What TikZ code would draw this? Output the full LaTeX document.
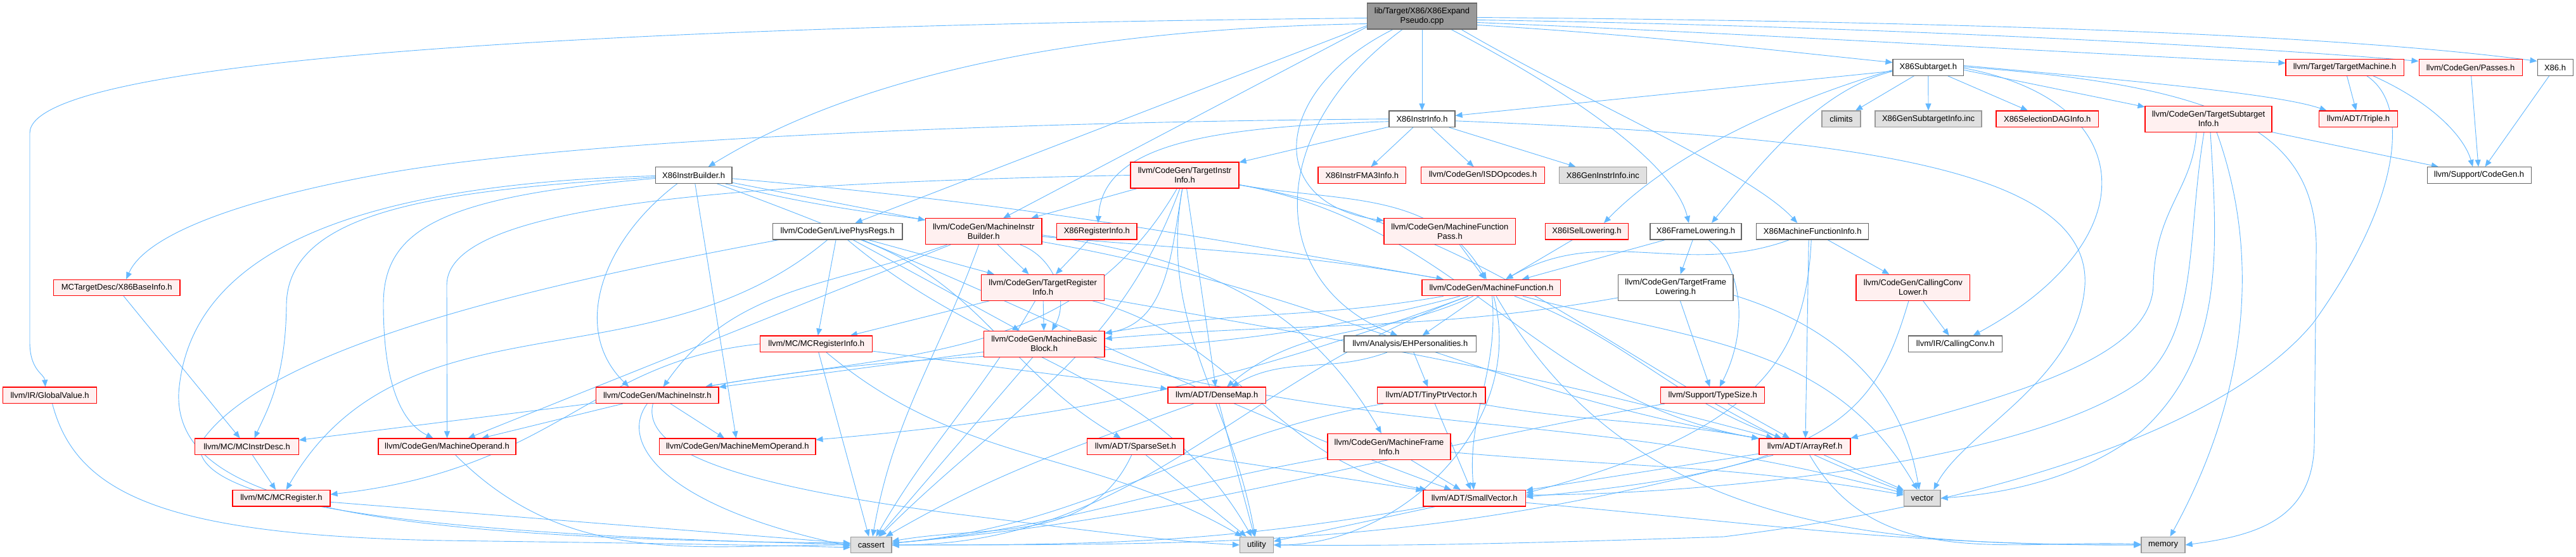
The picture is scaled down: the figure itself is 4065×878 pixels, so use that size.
\documentclass[tikz,border=0pt]{standalone}
\usepackage{fontspec}
\setmainfont{Liberation Sans}
\usetikzlibrary{arrows.meta,calc}
\definecolor{edgec}{HTML}{63B8FF}
\definecolor{rfill}{HTML}{FFF0F0}
\definecolor{gfill}{HTML}{E0E0E0}
\definecolor{gborder}{HTML}{999999}
\definecolor{wborder}{HTML}{666666}
\definecolor{rootfill}{HTML}{999999}
\pgfdeclarelayer{bgl}
\pgfdeclarelayer{edgelayer}
\pgfsetlayers{bgl,edgelayer,main}
% curved connector: start, out angle, in angle, end, looseness
\newcommand\curv[5]{%
  \draw[conn] let \p1=($(#4)-(#1)$), \n1={0.3915*#5*100*veclen(\x1/100,\y1/100)} in
    (#1) .. controls ($(#1)+(#2:\n1)$) and ($(#4)+(#3:\n1)$) .. (#4);}
\begin{document}
\begin{tikzpicture}[x=1pt,y=1pt,
  nbase/.style={draw, rectangle, inner sep=0pt, align=center, text=black,
    font=\fontsize{13}{15}\selectfont, line width=1.1pt, minimum height=25.6pt},
  rnode/.style={nbase, draw=red, fill=rfill},
  wnode/.style={nbase, draw=wborder, fill=white},
  gnode/.style={nbase, draw=gborder, fill=gfill},
  rootnode/.style={nbase, draw=wborder, fill=rootfill},
  two/.style={minimum height=41pt},
  wd/.style={minimum width=#1pt},
  conn/.style={draw=edgec, line width=0.9pt, -{Triangle[length=11pt,width=9pt]}},
]
\begin{pgfonlayer}{bgl}
\fill[white] (0,0) rectangle (4065,-878);
\end{pgfonlayer}
\useasboundingbox (0,0) rectangle (4065,-878);

% row 0
\node[rootnode,two,wd=173] (root) at (2244,-25.5) {lib/Target/X86/X86Expand\\Pseudo.cpp};
% row 1
\node[wnode,wd=111.6] (sub) at (3042.8,-106.5) {X86Subtarget.h};
\node[rnode,wd=186] (tm) at (3700,-106.5) {llvm/Target/TargetMachine.h};
\node[rnode,wd=163] (passes) at (3898.5,-106.5) {llvm/CodeGen/Passes.h};
\node[wnode,wd=56] (x86h) at (4032,-106.5) {X86.h};
% row 2
\node[wnode,wd=104] (instrinfo) at (2244,-187.8) {X86InstrInfo.h};
\node[gnode,wd=61] (climits) at (2905.5,-187.8) {climits};
\node[gnode,wd=168] (gensub) at (3043,-187.8) {X86GenSubtargetInfo.inc};
\node[rnode,wd=161.5] (seldag) at (3230.7,-187.8) {X86SelectionDAGInfo.h};
\node[rnode,two,wd=200] (tsi) at (3485,-187.8) {llvm/CodeGen/TargetSubtarget\\Info.h};
\node[rnode,wd=124] (triple) at (3721.5,-187.8) {llvm/ADT/Triple.h};
% row 3
\node[wnode,wd=120.5] (ibuilder) at (1094.7,-276.5) {X86InstrBuilder.h};
\node[rnode,two,wd=171] (tii) at (1869.5,-276.5) {llvm/CodeGen/TargetInstr\\Info.h};
\node[rnode,wd=138.6] (fma3) at (2149.3,-276.5) {X86InstrFMA3Info.h};
\node[rnode,wd=194.6] (isd) at (2340,-276.5) {llvm/CodeGen/ISDOpcodes.h};
\node[gnode,wd=137.5] (geninstr) at (2529.3,-276.5) {X86GenInstrInfo.inc};
\node[wnode,wd=164] (cgh) at (3912,-276.5) {llvm/Support/CodeGen.h};
% row 4
\node[wnode,wd=204.7] (lpr) at (1321.6,-365.2) {llvm/CodeGen/LivePhysRegs.h};
\node[rnode,two,wd=183.6] (mib) at (1552.2,-365.2) {llvm/CodeGen/MachineInstr\\Builder.h};
\node[rnode,wd=126.4] (x86ri) at (1730.8,-365.2) {X86RegisterInfo.h};
\node[rnode,two,wd=207.8] (mfp) at (2287.9,-365.2) {llvm/CodeGen/MachineFunction\\Pass.h};
\node[rnode,wd=130.8] (isel) at (2504,-365.2) {X86ISelLowering.h};
\node[wnode,wd=144] (frame) at (2676,-365.2) {X86FrameLowering.h};
\node[wnode,wd=176.8] (mfi) at (2860.2,-365.2) {X86MachineFunctionInfo.h};
% row 5
\node[rnode,wd=199.6] (baseinfo) at (184.2,-453.9) {MCTargetDesc/X86BaseInfo.h};
\node[rnode,two,wd=193.8] (tri) at (1645.7,-453.8) {llvm/CodeGen/TargetRegister\\Info.h};
\node[rnode,wd=218.8] (mf) at (2353.4,-454.1) {llvm/CodeGen/MachineFunction.h};
\node[wnode,two,wd=181.6] (tfl) at (2644.2,-453.8) {llvm/CodeGen/TargetFrame\\Lowering.h};
\node[rnode,two,wd=179.8] (ccl) at (3018.9,-453.8) {llvm/CodeGen/CallingConv\\Lower.h};
% row 6
\node[rnode,wd=177.3] (mcri) at (1288.2,-542.8) {llvm/MC/MCRegisterInfo.h};
\node[rnode,two,wd=190.6] (mbb) at (1647.7,-542.8) {llvm/CodeGen/MachineBasic\\Block.h};
\node[wnode,wd=208.7] (eh) at (2225.3,-542.8) {llvm/Analysis/EHPersonalities.h};
\node[wnode,wd=148.2] (cc) at (3085.6,-542.8) {llvm/IR/CallingConv.h};
% row 7
\node[rnode,wd=148.2] (gv) at (78.6,-623.8) {llvm/IR/GlobalValue.h};
\node[rnode,wd=193.3] (mi) at (1037.3,-623.8) {llvm/CodeGen/MachineInstr.h};
\node[rnode,wd=154.5] (dm) at (1920.2,-623.8) {llvm/ADT/DenseMap.h};
\node[rnode,wd=170.5] (tpv) at (2258.7,-623.8) {llvm/ADT/TinyPtrVector.h};
\node[rnode,wd=164] (ts) at (2702.7,-623.8) {llvm/Support/TypeSize.h};
% row 8
\node[rnode,wd=163.8] (mcid) at (389.5,-704.8) {llvm/MC/MCInstrDesc.h};
\node[rnode,wd=217] (mo) at (705.5,-704.8) {llvm/CodeGen/MachineOperand.h};
\node[rnode,wd=246.3] (mmo) at (1163.8,-704.8) {llvm/CodeGen/MachineMemOperand.h};
\node[rnode,wd=152.2] (ss) at (1791.9,-704.8) {llvm/ADT/SparseSet.h};
\node[rnode,two,wd=194] (mfinfo) at (2192,-705) {llvm/CodeGen/MachineFrame\\Info.h};
\node[rnode,wd=144] (ar) at (2848,-704.8) {llvm/ADT/ArrayRef.h};
% row 9
\node[rnode,wd=154] (mcreg) at (444,-786.2) {llvm/MC/MCRegister.h};
\node[rnode,wd=161.4] (sv) at (2326.7,-786.2) {llvm/ADT/SmallVector.h};
\node[gnode,wd=57.2] (vector) at (3033.4,-786.2) {vector};
% row 10
\node[gnode,wd=64.5] (cassert) at (1374.7,-860) {cassert};
\node[gnode,wd=53] (utility) at (1983,-860) {utility};
\node[gnode,wd=69] (memory) at (3413.5,-860) {memory};

\begin{pgfonlayer}{edgelayer}
% ---------- root
\draw[conn] ($(root.west)+(0,-3)$) .. controls (1000,-40) and (47,-90) .. (47,-210) -- (47,-540) .. controls (47,-585) and (70,-590) .. ($(gv.north)+(-7,0)$);
\draw[conn] ($(root.west)+(0,-12)$) .. controls (1700,-45) and (1350,-120) .. ($(ibuilder.north)+(23,0)$);
\draw[conn] ($(root.west)+(0,-15)$) -- ($(lpr.north)+(28,0)$);
\draw[conn] ($(root.west)+(0,-17)$) -- ($(mib.north)+(31,0)$);
\draw[conn] (root) -- (instrinfo);
\draw[conn] ($(root.south)+(-46,0)$) .. controls (2010,-140) and (1990,-320) .. ($(mfp.north west)+(0,-4)$);
\draw[conn] ($(root.south)+(-31,0)$) .. controls (1990,-210) and (2000,-450) .. ($(eh.north)+(-20,0)$);
\draw[conn] ($(root.south)+(46,0)$) .. controls (2450,-130) and (2640,-250) .. ($(frame.north)+(-11,0)$);
\draw[conn] ($(root.south)+(62,0)$) .. controls (2500,-160) and (2760,-270) .. ($(mfi.north)+(-24,0)$);
\draw[conn] ($(root.east)+(0,-14)$) .. controls (2600,-55) and (2850,-85) .. ($(sub.west)+(0,8)$);
\draw[conn] ($(root.east)+(0,-10)$) .. controls (2800,-55) and (3300,-85) .. ($(tm.west)+(0,7)$);
\draw[conn] ($(root.east)+(0,-6)$) .. controls (2900,-40) and (3500,-70) .. ($(passes.west)+(0,10)$);
\draw[conn] ($(root.east)+(0,-2)$) .. controls (3000,-33) and (3650,-50) .. ($(x86h.west)+(0,10)$);
% ---------- X86InstrInfo
\draw[conn] (instrinfo) -- (fma3);
\draw[conn] (instrinfo) -- (isd);
\draw[conn] (instrinfo) -- (geninstr);
\draw[conn] (instrinfo) -- (tii);
\draw[conn] ($(instrinfo.west)+(0,-4)$) .. controls (1900,-200) and (1740,-230) .. ($(x86ri.north)+(2,0)$);
\draw[conn] ($(instrinfo.west)+(0,0)$) .. controls (1600,-192) and (900,-220) .. (600,-275) .. controls (380,-315) and (230,-370) .. ($(baseinfo.north)+(15,0)$);
\draw[conn] ($(instrinfo.east)+(0,-3)$) .. controls (2900,-215) and (3300,-260) .. (3290,-450) .. controls (3280,-600) and (3100,-680) .. ($(vector.north)+(18,0)$);
% ---------- X86Subtarget
\draw[conn] (sub) -- (climits);
\draw[conn] (sub) -- (gensub);
\draw[conn] (sub) -- (seldag);
\draw[conn] ($(sub.east)+(0,-4)$) -- ($(tsi.north west)+(0,-2)$);
\draw[conn] ($(sub.east)+(0,3)$) .. controls (3400,-130) and (3600,-150) .. ($(triple.north)+(-50,0)$);
\draw[conn] (sub) -- (instrinfo);
\draw[conn] ($(sub.west)+(0,-4)$) .. controls (2850,-150) and (2650,-230) .. ($(isel.north)+(27,0)$);
\draw[conn] ($(sub.west)+(0,-6)$) .. controls (2880,-140) and (2800,-230) .. ($(frame.north)+(25,0)$);
\draw[conn] ($(sub.east)+(0,-1)$) .. controls (3380,-160) and (3390,-380) .. ($(cc.north)+(28,0)$);
\draw[conn] ($(sub.east)+(0,1)$) .. controls (3500,-135) and (3660,-200) .. (3655,-400) -- (3652,-700) .. controls (3650,-820) and (3560,-845) .. (memory.east);
% ---------- TargetMachine, Passes, X86.h
\draw[conn] (tm) -- (triple);
\draw[conn] ($(tm.south)+(45,0)$) .. controls (3845,-165) and (3890,-220) .. ($(cgh.north)+(-10,0)$);
\draw[conn] ($(tm.south)+(35,0)$) .. controls (3810,-170) and (3780,-330) .. (3650,-510) .. controls (3500,-690) and (3100,-800) .. (2720,-847) .. controls (2400,-858) and (2200,-862) .. (utility.east);
\draw[conn] (passes) -- (cgh);
\draw[conn] (x86h) -- (cgh);
% ---------- TargetSubtargetInfo
\draw[conn] (tsi) -- (cgh);
\draw[conn] ($(tsi.south)+(13,0)$) .. controls (3560,-380) and (3560,-600) .. ($(memory.north)+(11,0)$);
\draw[conn] ($(tsi.south)+(3,0)$) .. controls (3500,-400) and (3510,-560) .. (3380,-680) .. controls (3280,-760) and (3150,-780) .. (vector.east);
\draw[conn] ($(tsi.south)+(-7,0)$) .. controls (3450,-380) and (3470,-520) .. (3380,-600) .. controls (3200,-730) and (2700,-780) .. ($(sv.east)+(0,5)$);
\draw[conn] ($(tsi.south)+(-19,0)$) .. controls (3460,-300) and (3400,-330) .. (3398,-450) .. controls (3395,-560) and (3200,-620) .. ($(ar.north east)+(0,0)$);
% ---------- X86InstrBuilder
\draw[conn] (ibuilder) -- (mib);
\curv{ibuilder.-5}{-5}{170}{mf.170}{1}
\curv{ibuilder.-15}{-15}{120}{mfinfo.120}{1}
\curv{ibuilder.-20}{-20}{160}{sv.160}{1}
\draw[conn] ($(ibuilder.south)+(-26,0)$) .. controls (950,-380) and (900,-520) .. ($(mi.north)+(-45,0)$);
\draw[conn] (ibuilder) -- (mmo);
\draw[conn] ($(ibuilder.west)+(0,-5)$) .. controls (700,-310) and (605,-360) .. (605,-480) .. controls (605,-620) and (640,-670) .. ($(mo.north)+(-22,0)$);
\draw[conn] ($(ibuilder.west)+(0,-3)$) .. controls (700,-300) and (455,-330) .. (452,-480) .. controls (451,-600) and (420,-650) .. ($(mcid.north)+(12,0)$);
\draw[conn] ($(ibuilder.west)+(0,-1)$) .. controls (600,-290) and (300,-380) .. (282,-620) .. controls (275,-800) and (600,-850) .. ($(cassert.west)+(0,3)$);
% ---------- LivePhysRegs
\curv{lpr.-20}{-20}{150}{ss.150}{1}
\draw[conn] (lpr) -- (mbb);
\draw[conn] (lpr) -- (tri);
\curv{lpr.-140}{-140}{60}{mcreg.60}{1}
\draw[conn] (lpr) -- (mcri);
\draw[conn] ($(lpr.south west)+(10,0)$) .. controls (900,-440) and (420,-540) .. (316,-700) .. controls (300,-800) and (700,-845) .. ($(cassert.west)+(0,1)$);
\curv{lpr.-40}{-40}{120}{utility.120}{1}
% ---------- MachineInstrBuilder
\draw[conn] (mib) -- (tri);
\curv{mib.-20}{-20}{60}{mbb.60}{1}
\curv{mib.200}{200}{55}{mi.55}{1}
\draw[conn] (mib) -- (mo);
\curv{mib.-110}{-110}{80}{cassert.80}{1}
\curv{mib.-5}{-5}{170}{mf.170}{1}
\curv{mib.-10}{-10}{170}{ar.170}{1}
\draw[conn] (x86ri) -- (tri);
% ---------- TargetInstrInfo
\draw[conn] (tii) -- (mib);
\curv{tii.-100}{-100}{10}{mbb.10}{1}
\curv{tii.-10}{-10}{120}{mf.120}{1}
\curv{tii.-120}{-120}{10}{mi.10}{1}
\draw[conn] (tii.west) .. controls (1100,-290) and (705,-330) .. (705,-450) -- (mo.north);
\draw[conn] (tii) -- (dm);
\curv{tii.-10}{-10}{170}{ar.170}{1}
\curv{tii.-110}{-110}{45}{cassert.45}{1}
\curv{tii.-100}{-100}{100}{utility.100}{1}
\curv{tii.-10}{-10}{160}{vector.160}{1}
% ---------- row 4 to MachineFunction etc.
\draw[conn] (mfp) -- (mf);
\draw[conn] (isel) -- (mf);
\draw[conn] (frame) -- (mf);
\draw[conn] (frame) -- (tfl);
\draw[conn] ($(frame.south)+(20,0)$) .. controls (2750,-420) and (2760,-520) .. ($(ts.north)+(11,0)$);
\curv{mfi.200}{200}{30}{mf.30}{1}
\draw[conn] (mfi) -- (ccl);
\draw[conn] ($(mfi.south)+(-6,0)$) -- ($(ar.north)+(1,0)$);
\draw[conn] ($(mfi.south)+(-2,0)$) .. controls (2850,-560) and (2780,-680) .. ($(sv.east)+(0,8)$);
% ---------- TargetFrameLowering
\curv{tfl.190}{190}{5}{mbb.5}{1}
\draw[conn] (tfl) -- (ts);
\draw[conn] ($(tfl.east)+(0,-12)$) .. controls (2880,-510) and (3000,-600) .. ($(vector.north)+(-5,0)$);
% ---------- CallingConvLower
\draw[conn] (ccl) -- (cc);
\draw[conn] ($(ccl.south)+(-7,0)$) .. controls (2960,-650) and (2900,-740) .. ($(sv.east)+(0,2)$);
% ---------- MachineFunction
\draw[conn] (mf) -- (eh);
\curv{mf.-85}{-85}{95}{sv.95}{1}
\curv{mf.190}{190}{10}{mbb.10}{1}
\curv{mf.200}{200}{5}{mmo.5}{1}
\curv{mf.195}{195}{10}{mi.10}{1}
\curv{mf.205}{205}{40}{dm.40}{1}
\curv{mf.-20}{-20}{160}{ar.160}{1}
\curv{mf.-15}{-15}{120}{vector.120}{1}
\curv{mf.-60}{-60}{180}{memory.180}{1}
\curv{mf.-75}{-75}{0}{utility.0}{1}
\curv{mf.200}{200}{0}{cassert.0}{1}
% ---------- EHPersonalities, TinyPtrVector, DenseMap, SparseSet
\draw[conn] (eh) -- (tpv);
\curv{eh.200}{200}{30}{dm.30}{1}
\draw[conn] (tpv) -- (sv);
\curv{tpv.-10}{-10}{170}{ar.170}{1}
\curv{tpv.190}{190}{5}{cassert.5}{1}
\draw[conn] (dm) -- (utility);
\curv{dm.200}{200}{30}{cassert.30}{1}
\draw[conn] (ss) -- (sv);
\curv{ss.-115}{-115}{10}{cassert.10}{1}
\draw[conn] (ss) -- (utility);
% ---------- MachineBasicBlock, TargetRegisterInfo
\draw[conn] (mbb) -- (mi);
\draw[conn] (mbb) -- (cassert);
\curv{mbb.-15}{-15}{165}{vector.165}{1}
\draw[conn] (tri) -- (mbb);
\draw[conn] (tri) -- (mcri);
\curv{tri.-10}{-10}{165}{ar.165}{1}
\curv{tri.-15}{-15}{170}{sv.170}{1}
\curv{tri.-120}{-120}{60}{cassert.60}{1}
% ---------- MCRegisterInfo
\draw[conn] (mcri.west) .. controls (930,-570) and (880,-740) .. ($(mcreg.east)+(0,6)$);
\draw[conn] (mcri) -- (dm);
\draw[conn] (mcri) -- (cassert);
\curv{mcri.-40}{-40}{150}{utility.150}{1}
% ---------- MachineInstr and lower left
\draw[conn] (mi) -- (mo);
\draw[conn] (mi) -- (mmo);
\draw[conn] (mi) -- (mcid);
\draw[conn] ($(mi.south)+(-16,0)$) .. controls (975,-700) and (1050,-800) .. ($(cassert.west)+(0,-2)$);
\draw[conn] ($(mi.south)+(-7,0)$) .. controls (1010,-720) and (1200,-770) .. (1500,-810) .. controls (1700,-835) and (1850,-855) .. (utility.west);
\curv{mo.-45}{-45}{180}{cassert.180}{1}
\draw[conn] ($(gv.south)+(4,0)$) .. controls (120,-780) and (260,-845) .. (700,-853) .. controls (1000,-857) and (1200,-860) .. ($(cassert.west)+(0,-4)$);
\draw[conn] (mcid) -- (mcreg);
\draw[conn] (mcreg) -- (cassert);
\draw[conn] (baseinfo) -- (mcid);
% ---------- SmallVector, ArrayRef, TypeSize, MachineFrameInfo
\curv{sv.190}{190}{0}{cassert.0}{1}
\draw[conn] (sv) -- (utility);
\curv{sv.-5}{-5}{180}{memory.180}{1}
\draw[conn] (ar) -- (sv);
\draw[conn] (ar) -- (vector);
\curv{ar.-60}{-60}{178}{memory.178}{1}
\curv{ar.195}{195}{0}{cassert.0}{1}
\draw[conn] (ts) -- (ar);
\curv{ts.190}{190}{5}{cassert.5}{1}
\draw[conn] (mfinfo) -- (sv);
\curv{mfinfo.-5}{-5}{170}{vector.170}{1}
\curv{mfinfo.190}{190}{5}{cassert.5}{1}
\end{pgfonlayer}
\end{tikzpicture}
\end{document}
